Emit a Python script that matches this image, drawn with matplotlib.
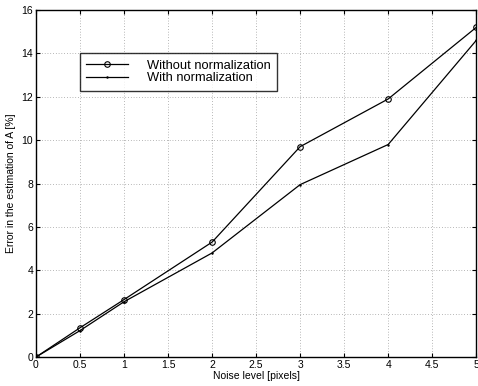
import matplotlib
matplotlib.use('Agg')
import matplotlib.pyplot as plt

plt.rcParams['font.family'] = ['Liberation Sans', 'DejaVu Sans']

noise = [0, 0.5, 1, 2, 3, 4, 5]
err_without = [0, 1.35, 2.65, 5.3, 9.7, 11.9, 15.2]
err_with = [0, 1.22, 2.55, 4.8, 7.95, 9.8, 14.6]

fig = plt.figure(figsize=(4.78, 3.86), dpi=100)
ax = fig.add_axes([0.0753, 0.075, 0.921, 0.899])

ax.plot(noise, err_without, color='black', lw=0.9, marker='o', ms=4,
        mfc='none', mew=0.8, label='Without normalization')
ax.plot(noise, err_with, color='black', lw=0.9, marker='.', ms=1.5,
        label='With normalization')

ax.set_xlim(0, 5)
ax.set_ylim(0, 16)
ax.set_xticks([0, 0.5, 1, 1.5, 2, 2.5, 3, 3.5, 4, 4.5, 5])
ax.set_xticklabels(['0', '0.5', '1', '1.5', '2', '2.5', '3', '3.5', '4', '4.5', '5'])
ax.set_yticks(range(0, 17, 2))
ax.grid(True, color='black', linestyle=(0, (1, 3)), lw=0.5, alpha=0.55)
ax.tick_params(direction='in', top=True, right=True, labelsize=7.5, length=3, pad=2)
for s in ax.spines.values():
    s.set_linewidth(1.0)

ax.set_xlabel('Noise level [pixels]', fontsize=7.5, labelpad=1)
ax.set_ylabel('Error in the estimation of A [%]', fontsize=7.5, labelpad=4)

leg = ax.legend(loc='upper left', bbox_to_anchor=(0.10, 0.876), fontsize=9.3,
                frameon=True, fancybox=False, edgecolor='black',
                handlelength=3.2, borderpad=0.5, labelspacing=0.05,
                handletextpad=1.5, borderaxespad=0)
leg.get_frame().set_linewidth(1.0)

fig.savefig('out.png', dpi=100)
